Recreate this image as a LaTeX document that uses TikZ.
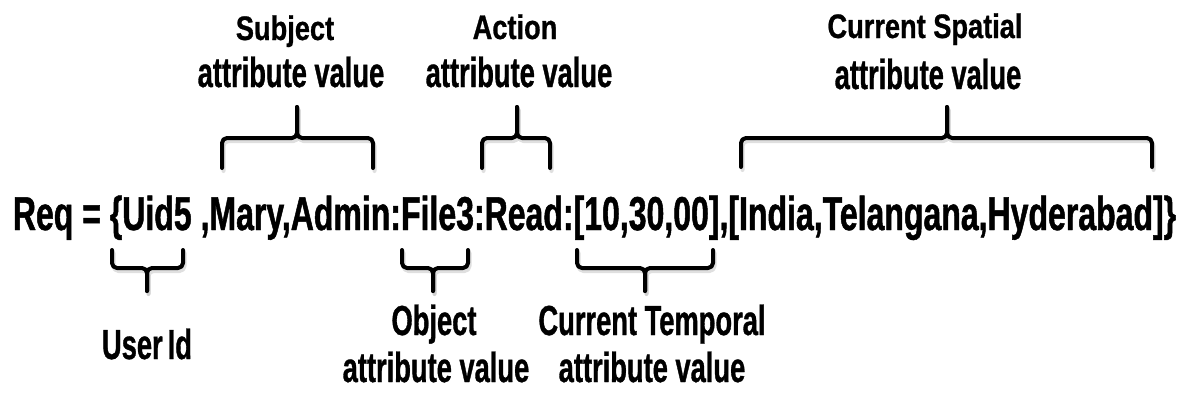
\documentclass[tikz,border=0pt]{standalone}
\usepackage{fontspec}
\newfontfamily\mainf[FakeStretch=0.674,FakeBold=1]{Liberation Sans}
\newfontfamily\labf[FakeStretch=0.65,FakeBold=0.8]{Liberation Sans}
\newfontfamily\headf[FakeStretch=0.8,FakeBold=0.8]{Liberation Sans}
\newcommand\mybrace[6]{%
  \begin{scope}[shift={(1.5,3)}]
    \draw[braceshadow] (#1,#5) -- (#1,#4) -- (#3,#4) -- (#3,#6);
    \draw[braceshadow] (#3,#6) -- (#3,#4) -- (#2,#4) -- (#2,#5);
  \end{scope}
  \draw[braceline] (#1,#5) -- (#1,#4) -- (#3,#4) -- (#3,#6);
  \draw[braceline] (#3,#6) -- (#3,#4) -- (#2,#4) -- (#2,#5);
}
\begin{document}
\begin{tikzpicture}[x=1pt,y=-1pt,
  main/.style={font={\mainf\bfseries\fontsize{47.5pt}{50pt}\selectfont}, inner sep=0pt, anchor=base west},
  lab/.style={font={\labf\bfseries\fontsize{42pt}{44pt}\selectfont}, inner sep=0pt, anchor=base},
  head/.style={font={\headf\bfseries\fontsize{34pt}{36pt}\selectfont}, inner sep=0pt, anchor=base},
  braceline/.style={line width=4pt, rounded corners=5pt, line cap=round, line join=round},
  braceshadow/.style={braceline, draw=black!25, opacity=0.5}]
\useasboundingbox (0,0) rectangle (1182,394);

% main request line
\node[main] (req) at (12.7,230) {Req = \{Uid5 ,Mary,Admin:File3:Read:[10,30,00],[India,Telangana,Hyderabad]\}};

% top braces
\mybrace{222}{373}{297}{138}{168}{107}
\mybrace{482}{550}{517}{138}{168}{107}
\mybrace{741}{1152}{947}{138}{167}{107}

% bottom braces
\mybrace{112}{183}{147}{268}{250}{291}
\mybrace{402}{468}{433}{268}{250}{291}
\mybrace{577}{713}{645}{268}{250}{291}

% top labels
\node[head] (subj1) at (285,40) {Subject};
\node[lab]  (subj2) at (291,87) {attribute value};
\node[head] (act1)  at (515,39) {Action};
\node[lab]  (act2)  at (519,87) {attribute value};
\node[head] (spa1)  at (925,38) {Current Spatial};
\node[lab]  (spa2)  at (928,89) {attribute value};

% bottom labels
\node[lab] (uid)  at (147,359) {User\hspace{0.12em}Id};
\node[lab] (obj1) at (434,335) {Object};
\node[lab] (obj2) at (436,382) {attribute value};
\node[lab] (tmp1) at (652,335) {Current Temporal};
\node[lab] (tmp2) at (652,382) {attribute value};
\end{tikzpicture}
\end{document}
